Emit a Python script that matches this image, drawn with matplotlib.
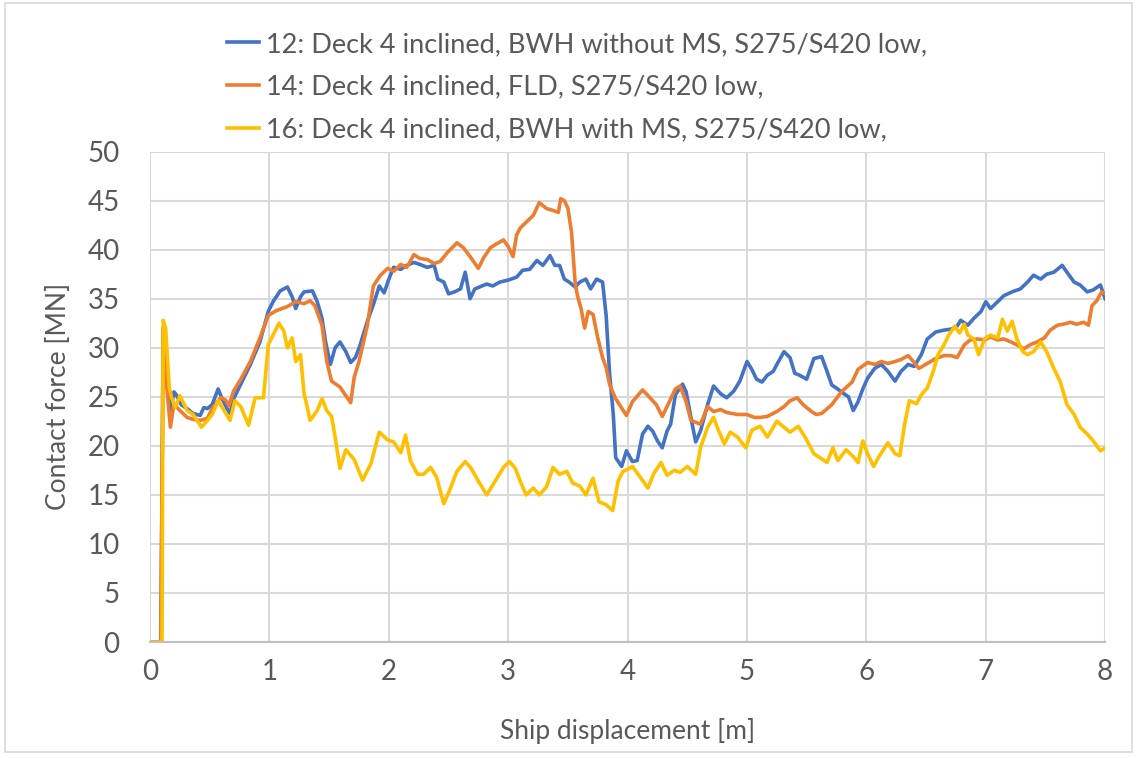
import matplotlib.pyplot as plt
from matplotlib.patches import Rectangle

plt.rcParams['font.family'] = ['Lato', 'DejaVu Sans']

labels = [
    '12: Deck 4 inclined, BWH without MS, S275/S420 low,',
    '14: Deck 4 inclined, FLD, S275/S420 low,',
    '16: Deck 4 inclined, BWH with MS, S275/S420 low,',
]
colors = ['#4472C4', '#ED7D31', '#FFC000']

x12 = [0, 0.09, 0.11, 0.14, 0.17, 0.2, 0.22, 0.26, 0.31, 0.36, 0.42, 0.45, 0.48, 0.52, 0.57,
       0.6, 0.64, 0.67, 0.7, 0.76, 0.84, 0.92, 0.99, 1.03, 1.09, 1.15, 1.19, 1.22, 1.26, 1.29,
       1.36, 1.4, 1.44, 1.47, 1.51, 1.55, 1.59, 1.64, 1.68, 1.72, 1.76, 1.82, 1.87, 1.92, 1.96,
       2.0, 2.04, 2.1, 2.15, 2.21, 2.26, 2.32, 2.38, 2.41, 2.46, 2.5, 2.55, 2.6, 2.64, 2.68,
       2.72, 2.76, 2.82, 2.87, 2.93, 3.0, 3.07, 3.12, 3.18, 3.24, 3.29, 3.35, 3.39, 3.43, 3.47,
       3.51, 3.56, 3.6, 3.65, 3.69, 3.74, 3.79, 3.82, 3.85, 3.88, 3.9, 3.95, 3.99, 4.04, 4.08,
       4.125, 4.17, 4.21, 4.25, 4.29, 4.33, 4.36, 4.4, 4.46, 4.49, 4.53, 4.57, 4.61, 4.67, 4.72,
       4.78, 4.83, 4.89, 4.94, 5.0, 5.04, 5.08, 5.125, 5.17, 5.22, 5.25, 5.31, 5.36, 5.4, 5.44,
       5.5, 5.56, 5.625, 5.67, 5.71, 5.76, 5.79, 5.85, 5.89, 5.93, 5.97, 6.01, 6.07, 6.125, 6.18,
       6.24, 6.29, 6.35, 6.4, 6.46, 6.51, 6.58, 6.65, 6.71, 6.76, 6.79, 6.85, 6.9, 6.96, 7.0,
       7.04, 7.1, 7.15, 7.22, 7.29, 7.35, 7.4, 7.46, 7.51, 7.57, 7.64, 7.68, 7.74, 7.79, 7.85,
       7.9, 7.96, 8.0]
y12 = [0, 0, 32.0, 27.0, 23.5, 25.5, 25.2, 24.2, 23.8, 23.3, 23.1, 23.9, 23.8, 24.2, 25.8,
       24.9, 23.9, 23.3, 24.8, 26.3, 28.3, 30.6, 33.7, 34.7, 35.8, 36.2, 35.2, 34.0, 35.2, 35.7,
       35.8, 34.7, 33.0, 30.6, 28.3, 30.0, 30.6, 29.6, 28.5, 29.0, 30.3, 32.7, 34.4, 36.3, 35.6,
       37.0, 38.2, 38.0, 38.4, 38.7, 38.5, 38.2, 38.4, 37.0, 36.7, 35.5, 35.7, 36.0, 37.7, 35.0,
       36.0, 36.2, 36.5, 36.3, 36.7, 36.9, 37.2, 37.9, 38.0, 38.9, 38.4, 39.4, 38.4, 38.4, 37.0,
       36.7, 36.2, 36.7, 37.0, 36.0, 37.0, 36.7, 33.3, 27.2, 23.2, 18.8, 17.9, 19.5, 18.4, 18.5,
       21.2, 22.0, 21.5, 20.5, 19.8, 21.5, 22.2, 25.2, 26.3, 25.5, 22.9, 20.4, 21.5, 24.2, 26.1,
       25.3, 24.9, 25.6, 26.6, 28.6, 27.8, 26.8, 26.5, 27.2, 27.6, 28.3, 29.6, 29.0, 27.4, 27.2,
       26.8, 28.9, 29.1, 27.6, 26.2, 25.8, 25.5, 25.0, 23.6, 24.5, 25.8, 26.9, 27.9, 28.3, 27.6,
       26.6, 27.6, 28.3, 28.1, 29.3, 30.9, 31.6, 31.8, 31.9, 32.2, 32.8, 32.3, 33.0, 33.7, 34.7,
       34.0, 34.7, 35.3, 35.7, 36.0, 36.7, 37.4, 37.0, 37.5, 37.7, 38.4, 37.7, 36.7, 36.4, 35.7,
       35.9, 36.4, 35.0]

x14 = [0, 0.09, 0.11, 0.14, 0.17, 0.2, 0.22, 0.25, 0.31, 0.36, 0.42, 0.48, 0.52, 0.59, 0.63,
       0.66, 0.7, 0.76, 0.84, 0.92, 0.99, 1.06, 1.15, 1.22, 1.29, 1.34, 1.38, 1.44, 1.48, 1.52,
       1.59, 1.68, 1.71, 1.75, 1.82, 1.87, 1.93, 1.99, 2.04, 2.1, 2.15, 2.21, 2.26, 2.32, 2.38,
       2.43, 2.49, 2.57, 2.625, 2.68, 2.75, 2.79, 2.85, 2.89, 2.96, 3.0, 3.04, 3.07, 3.1, 3.15,
       3.21, 3.26, 3.32, 3.375, 3.42, 3.44, 3.47, 3.5, 3.53, 3.56, 3.58, 3.61, 3.64, 3.67, 3.71,
       3.75, 3.79, 3.82, 3.85, 3.9, 3.99, 4.04, 4.125, 4.18, 4.24, 4.29, 4.35, 4.4, 4.44, 4.49,
       4.53, 4.61, 4.67, 4.72, 4.78, 4.83, 4.92, 5.0, 5.06, 5.11, 5.17, 5.25, 5.31, 5.36, 5.42,
       5.47, 5.54, 5.58, 5.625, 5.71, 5.79, 5.88, 5.93, 6.01, 6.07, 6.125, 6.18, 6.24, 6.29, 6.35,
       6.4, 6.44, 6.51, 6.58, 6.65, 6.71, 6.76, 6.82, 6.87, 6.93, 6.99, 7.04, 7.1, 7.15, 7.21,
       7.26, 7.32, 7.37, 7.43, 7.49, 7.54, 7.6, 7.65, 7.71, 7.76, 7.82, 7.86, 7.89, 7.93, 7.97,
       8.0]
y14 = [0, 0, 32.0, 26.0, 21.9, 24.3, 24.0, 23.6, 22.9, 22.7, 22.6, 22.8, 23.8, 24.9, 24.7,
       24.1, 25.6, 26.8, 28.6, 31.0, 33.3, 33.8, 34.2, 34.7, 34.5, 34.8, 34.3, 32.3, 28.6, 26.6,
       26.0, 24.4, 27.0, 28.6, 32.3, 36.3, 37.4, 38.1, 37.8, 38.5, 38.2, 39.5, 39.1, 39.0, 38.6,
       38.8, 39.7, 40.7, 40.2, 39.3, 38.1, 39.1, 40.2, 40.5, 41.0, 40.3, 39.3, 41.5, 42.2, 42.8,
       43.5, 44.8, 44.2, 44.0, 43.8, 45.2, 45.0, 44.2, 41.8, 36.7, 35.3, 34.0, 32.0, 33.7, 33.4,
       31.0, 29.0, 28.0, 26.2, 24.8, 23.1, 24.5, 25.7, 25.0, 24.2, 23.0, 24.5, 25.8, 26.1, 24.5,
       22.6, 22.2, 24.0, 23.5, 23.7, 23.4, 23.2, 23.2, 22.9, 22.9, 23.0, 23.5, 24.0, 24.6, 24.9,
       24.2, 23.5, 23.2, 23.3, 24.2, 25.5, 26.5, 27.8, 28.5, 28.3, 28.6, 28.4, 28.6, 28.8, 29.2,
       28.5, 27.9, 28.4, 28.9, 29.2, 29.2, 29.0, 30.3, 30.8, 30.9, 30.8, 31.1, 30.8, 30.9, 30.6,
       30.3, 29.9, 30.3, 30.6, 31.0, 31.8, 32.3, 32.4, 32.6, 32.4, 32.6, 32.3, 34.3, 34.8, 35.7,
       35.5]

x16 = [0, 0.1, 0.11, 0.13, 0.16, 0.18, 0.21, 0.25, 0.31, 0.36, 0.43, 0.48, 0.52, 0.57, 0.62,
       0.67, 0.71, 0.76, 0.825, 0.88, 0.95, 0.99, 1.03, 1.08, 1.12, 1.15, 1.19, 1.22, 1.26, 1.29,
       1.31, 1.34, 1.4, 1.44, 1.48, 1.52, 1.55, 1.59, 1.64, 1.71, 1.78, 1.85, 1.92, 1.99, 2.04,
       2.1, 2.14, 2.18, 2.24, 2.29, 2.35, 2.4, 2.46, 2.51, 2.57, 2.64, 2.69, 2.75, 2.82, 2.89,
       2.96, 3.01, 3.06, 3.1, 3.15, 3.21, 3.26, 3.32, 3.375, 3.43, 3.49, 3.54, 3.6, 3.65, 3.71,
       3.76, 3.82, 3.875, 3.92, 3.96, 4.0, 4.04, 4.1, 4.17, 4.22, 4.28, 4.33, 4.39, 4.44, 4.5,
       4.57, 4.61, 4.67, 4.72, 4.76, 4.81, 4.86, 4.92, 4.99, 5.04, 5.11, 5.17, 5.25, 5.31, 5.36,
       5.43, 5.5, 5.56, 5.61, 5.67, 5.72, 5.76, 5.83, 5.89, 5.93, 5.97, 6.01, 6.06, 6.11, 6.18,
       6.24, 6.28, 6.32, 6.36, 6.42, 6.46, 6.51, 6.56, 6.6, 6.65, 6.69, 6.74, 6.78, 6.82, 6.85,
       6.9, 6.94, 6.99, 7.04, 7.1, 7.14, 7.18, 7.22, 7.26, 7.31, 7.35, 7.4, 7.46, 7.51, 7.57,
       7.625, 7.68, 7.74, 7.79, 7.85, 7.9, 7.96, 8.0]
y16 = [0, 0, 32.8, 32.0, 26.0, 24.9, 23.9, 25.1, 23.6, 23.2, 21.9, 22.6, 23.2, 24.6, 23.6,
       22.6, 24.6, 24.0, 22.1, 24.9, 24.9, 30.3, 31.3, 32.5, 31.7, 30.0, 31.0, 28.6, 29.3, 25.3,
       24.3, 22.6, 23.6, 24.8, 23.6, 23.0, 20.9, 17.7, 19.6, 18.6, 16.5, 18.2, 21.4, 20.6, 20.4,
       19.3, 21.1, 18.5, 17.1, 17.1, 17.8, 16.8, 14.1, 15.5, 17.4, 18.4, 17.7, 16.4, 15.0, 16.4,
       17.8, 18.4, 17.7, 16.4, 15.0, 15.7, 15.0, 15.8, 17.8, 17.1, 17.4, 16.2, 15.9, 15.0, 16.7,
       14.3, 14.0, 13.4, 16.4, 17.4, 17.6, 17.9, 16.9, 15.7, 17.2, 18.3, 17.0, 17.5, 17.3, 17.9,
       17.1, 19.8, 21.9, 22.9, 21.6, 20.2, 21.4, 20.9, 19.8, 21.6, 22.0, 20.9, 22.5, 21.9, 21.4,
       22.0, 20.6, 19.2, 18.8, 18.3, 19.8, 18.5, 19.6, 18.9, 18.3, 20.5, 19.2, 17.9, 19.0, 20.3,
       19.2, 19.0, 22.2, 24.6, 24.3, 25.2, 25.9, 27.6, 29.3, 30.3, 31.3, 32.2, 31.5, 32.4, 31.3,
       30.9, 29.3, 30.9, 31.3, 31.0, 32.9, 31.7, 32.7, 30.9, 29.6, 29.3, 29.6, 30.6, 29.6, 27.9,
       26.5, 24.2, 23.2, 21.9, 21.2, 20.5, 19.5, 19.8]

fig = plt.figure(figsize=(11.37, 7.58), dpi=100)
ax = fig.add_axes([0.132, 0.153, 0.840, 0.647])

for xs, ys, c, lab in zip([x12, x14, x16], [y12, y14, y16], colors, labels):
    ax.plot(xs, ys, color=c, lw=2.6, label=lab)

ax.set_xlim(0, 8)
ax.set_ylim(0, 50)
ax.set_xticks(range(0, 9))
ax.set_yticks(range(0, 51, 5))
ax.grid(True, color='#d9d9d9', lw=1.5)
ax.set_axisbelow(True)
for s in ['top', 'right', 'left']:
    ax.spines[s].set_visible(False)
ax.spines['bottom'].set_color('#bfbfbf')
ax.spines['bottom'].set_linewidth(1.5)
ax.tick_params(length=0, labelsize=20, labelcolor='#595959')
ax.tick_params(axis='x', pad=12)
ax.tick_params(axis='y', pad=22)
ax.set_xlabel('Ship displacement [m]', fontsize=19, color='#595959', labelpad=24)
ax.set_ylabel('Contact force [MN]', fontsize=19, color='#595959', labelpad=12)

fig.legend(loc='upper left', bbox_to_anchor=(0.178, 0.99), frameon=False,
           fontsize=19.5, labelcolor='#595959', handlelength=1.2, handletextpad=0.25,
           labelspacing=0.65)

fig.patches.append(Rectangle((0.004, 0.008), 0.992, 0.988, transform=fig.transFigure,
                             fill=False, edgecolor='#d9d9d9', lw=1.2))

fig.savefig('out.png', dpi=100)
